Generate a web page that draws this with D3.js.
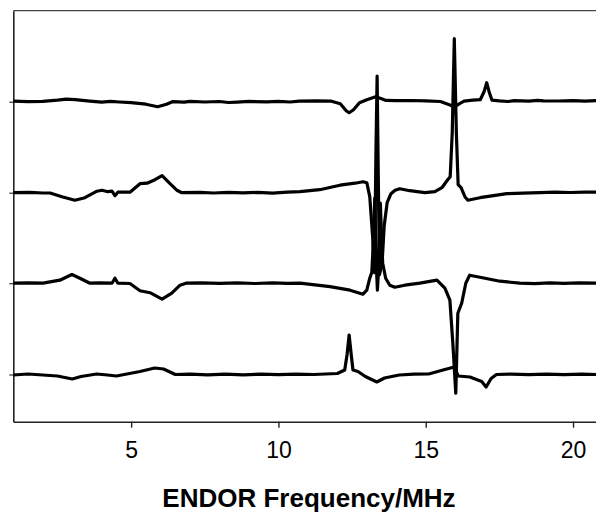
<!DOCTYPE html>
<html>
<head>
<meta charset="utf-8">
<script src="https://cdn.jsdelivr.net/npm/d3@7"></script>
<style>
  body { margin: 0; background: #fff; }
  svg { display: block; }
  .tick text { font-family: "Liberation Sans", Arial, sans-serif; }
</style>
</head>
<body>
<div id="chart" style="width:596px;height:512px"></div>
<script>
// ENDOR spectra, [frequency MHz, intensity a.u.] relative to each baseline
const trace1 = [
  [1.0, 0.5], [1.5, 0], [2.0, 0.3], [2.5, 1.5], [2.8, 2.5], [3.1, 2], [3.6, 0.5], [4.0, -0.5],
  [4.3, 0.3], [4.6, -0.3], [5.0, -1], [5.5, -2.5], [5.9, -5], [6.2, -2.5], [6.4, 0], [6.8, -0.4],
  [7.0, 0.3], [7.5, -0.3], [8.0, 0.2], [8.3, -0.8], [8.6, -0.4], [9.0, 0.3], [9.6, -0.2], [10.0, 0.3],
  [10.4, -0.3], [10.7, 0.5], [11.3, 0.8], [11.8, 0.5], [12.1, -2], [12.3, -9], [12.4, -11], [12.55, -8],
  [12.75, -1], [13.0, 2], [13.3, 5], [13.5, 3], [13.65, 1.3], [14.0, 1], [14.5, 1.2], [15.0, 0.8],
  [15.5, 0.2], [15.8, -3], [15.96, -5.5], [16.15, -2], [16.3, 0.5], [16.6, 1.5], [16.85, 2], [16.98, 10],
  [17.07, 19], [17.15, 10], [17.25, 1.5], [17.5, 0.8], [17.8, 0.2], [18.0, 1], [18.5, 0.5], [18.8, 1.3],
  [19.0, 0.9], [19.5, 0.7], [20.0, 1], [20.4, 0.6], [20.8, 1]
];

const trace2 = [
  [1.0, 0], [1.57, 0.3], [2.0, -0.3], [2.25, -0.3], [2.65, -4], [3.09, -7.5], [3.43, -5], [3.84, 1.5],
  [4.01, 2.5], [4.21, 1], [4.35, 1.5], [4.45, -3], [4.55, 0.5], [4.96, 0.5], [5.06, 3], [5.3, 9],
  [5.54, 9.5], [5.81, 13], [6.05, 17], [6.32, 9], [6.55, 2.5], [6.72, 0], [7.34, 0.3], [7.8, -0.3],
  [8.3, 0.4], [8.8, -0.2], [9.3, 0.3], [9.8, -0.4], [10.3, 0.5], [10.73, 1], [11.4, 3], [12.09, 7.5],
  [12.6, 9.5], [12.87, 11], [13.0, 10], [13.1, -4], [13.2, -45], [13.26, -80], [13.31, 40], [13.35, 116.7],
  [13.38, 40], [13.43, -82], [13.52, -70], [13.59, -33], [13.69, -10], [13.82, -1], [13.96, 2.5], [14.12, 4],
  [14.46, 2], [14.97, 0], [15.31, 1], [15.55, 5], [15.72, 12], [15.83, 16], [15.9, 60], [15.97, 154],
  [16.04, 60], [16.1, 8], [16.2, 5], [16.33, -4], [16.43, -7.5], [16.84, -5], [17.3, -3], [17.75, -1],
  [18.3, -0.5], [18.87, 0], [19.4, 0.6], [19.9, 0.2], [20.4, 0.6], [20.8, 0.5]
];

const trace3 = [
  [1.0, 0], [1.5, 0.4], [2.01, 0], [2.58, 3], [2.99, 8.7], [3.26, 5], [3.6, 0], [3.94, 0.3],
  [4.35, 0], [4.45, 5], [4.55, 0], [4.96, -0.3], [5.3, -7.5], [5.64, -9.5], [6.05, -16], [6.38, -10],
  [6.66, -2], [6.86, 0], [7.4, 0.4], [8.0, -0.2], [8.6, 0.3], [9.2, -0.3], [9.8, 0.3], [10.3, -0.2],
  [10.73, 0], [11.75, -3.5], [12.43, -7], [12.87, -11], [13.0, -7], [13.1, 5], [13.17, 11], [13.22, 40],
  [13.27, 85], [13.32, 20], [13.36, -7], [13.41, 20], [13.46, 80], [13.51, 38], [13.54, 20], [13.64, 5],
  [13.78, -2], [13.95, -4], [14.29, -2], [14.8, 0], [15.38, 3], [15.65, -5], [15.82, -17], [15.92, -60],
  [16.02, -110], [16.09, -30], [16.22, -20], [16.36, 0], [16.49, 8], [16.84, 6], [17.52, 2], [18.19, 0],
  [18.7, -0.4], [19.2, 0.3], [19.7, -0.2], [20.2, 0.3], [20.8, 0]
];

const trace4 = [
  [1.0, -0.5], [1.5, 0.5], [2.0, -0.5], [2.5, -1.5], [3.0, -4.5], [3.3, -2], [3.83, 0.5], [4.2, -0.5],
  [4.5, -1.5], [5.3, 3], [5.8, 6.5], [6.1, 5.5], [6.5, 0], [7.0, 0.4], [7.6, -0.3], [8.2, 0.3],
  [8.8, -0.4], [9.4, 0.3], [10.0, -0.2], [10.6, 0.4], [11.2, 0], [12.0, 1], [12.25, 4.5], [12.33, 20],
  [12.4, 39.5], [12.47, 20], [12.53, 4.5], [12.7, 3], [12.95, -2], [13.34, -7.5], [13.6, -3.5], [14.1, -0.5],
  [14.6, 0.3], [15.1, 0.5], [15.65, 5], [15.97, 7.5], [16.1, -1.5], [16.5, -2.5], [16.9, -7], [17.05, -12.5],
  [17.22, -4], [17.4, 0], [17.9, 0.4], [18.5, -0.2], [19.1, 0.3], [19.7, -0.1], [20.3, 0.3], [20.8, 0]
];

const traces = [trace1, trace2, trace3, trace4];
const offsets = [320, 229, 138.5, 47.2];   // baseline of each trace, same a.u.
const xTicks = [5, 10, 15, 20];
const xLabel = "ENDOR Frequency/MHz";

const parent = document.getElementById("chart"),
      svg = d3.select(parent).append("svg"),
      svgWidth = 596,
      svgHeight = 512;

svg.attr("width", svgWidth).attr("height", svgHeight);

const margin = {top: 10.7, right: 0, bottom: 90.3, left: 13.3},
      width = svgWidth - margin.left - margin.right,
      height = svgHeight - margin.top - margin.bottom;

const g = svg.append("g")
    .attr("transform", "translate(" + margin.left + "," + margin.top + ")");

const x = d3.scaleLinear()
    .domain([1, 20.78])
    .range([0, width]);

const y = d3.scaleLinear()
    .domain([0, 411])
    .range([height, 0]);

// frame: top and left lines, no right line (cut off)
g.append("line")
    .attr("x1", 0).attr("x2", width).attr("y1", 0).attr("y2", 0)
    .attr("stroke", "#444").attr("stroke-width", 1.3);

// Add X axis
const xAxis = g.append("g")
    .attr("transform", "translate(0," + height + ")")
    .call(d3.axisBottom(x).tickValues(xTicks).tickSize(6).tickSizeOuter(0));
xAxis.select(".domain").attr("stroke", "#222").attr("stroke-width", 1.6);
xAxis.selectAll(".tick line").attr("stroke", "#222").attr("stroke-width", 1.4);
xAxis.selectAll(".tick text")
    .attr("font-size", 23)
    .attr("fill", "#000")
    .attr("dy", "1.2em");

// Add Y axis: only small marks at each baseline
const yAxis = g.append("g")
    .call(d3.axisLeft(y).tickValues(offsets).tickSize(4).tickSizeOuter(0).tickFormat(""));
yAxis.select(".domain").attr("stroke", "#222").attr("stroke-width", 1.6);
yAxis.selectAll(".tick line").attr("stroke", "#333").attr("stroke-width", 1.2);

// Add the spectra
const line = d3.line()
    .x(d => x(d[0]))
    .y(d => y(d[1]));

g.append("g")
    .selectAll("path")
    .data(traces)
    .join("path")
        .attr("fill", "none")
        .attr("stroke", "#000")
        .attr("stroke-width", 3.2)
        .attr("stroke-linejoin", "round")
        .attr("d", (d, i) => line(d.map(p => [p[0], p[1] + offsets[i]])));

// axis title
svg.append("text")
    .attr("x", 309)
    .attr("y", 507)
    .attr("text-anchor", "middle")
    .attr("font-family", "Liberation Sans, Arial, sans-serif")
    .attr("font-weight", "bold")
    .attr("font-size", 26)
    .text(xLabel);
</script>
</body>
</html>
